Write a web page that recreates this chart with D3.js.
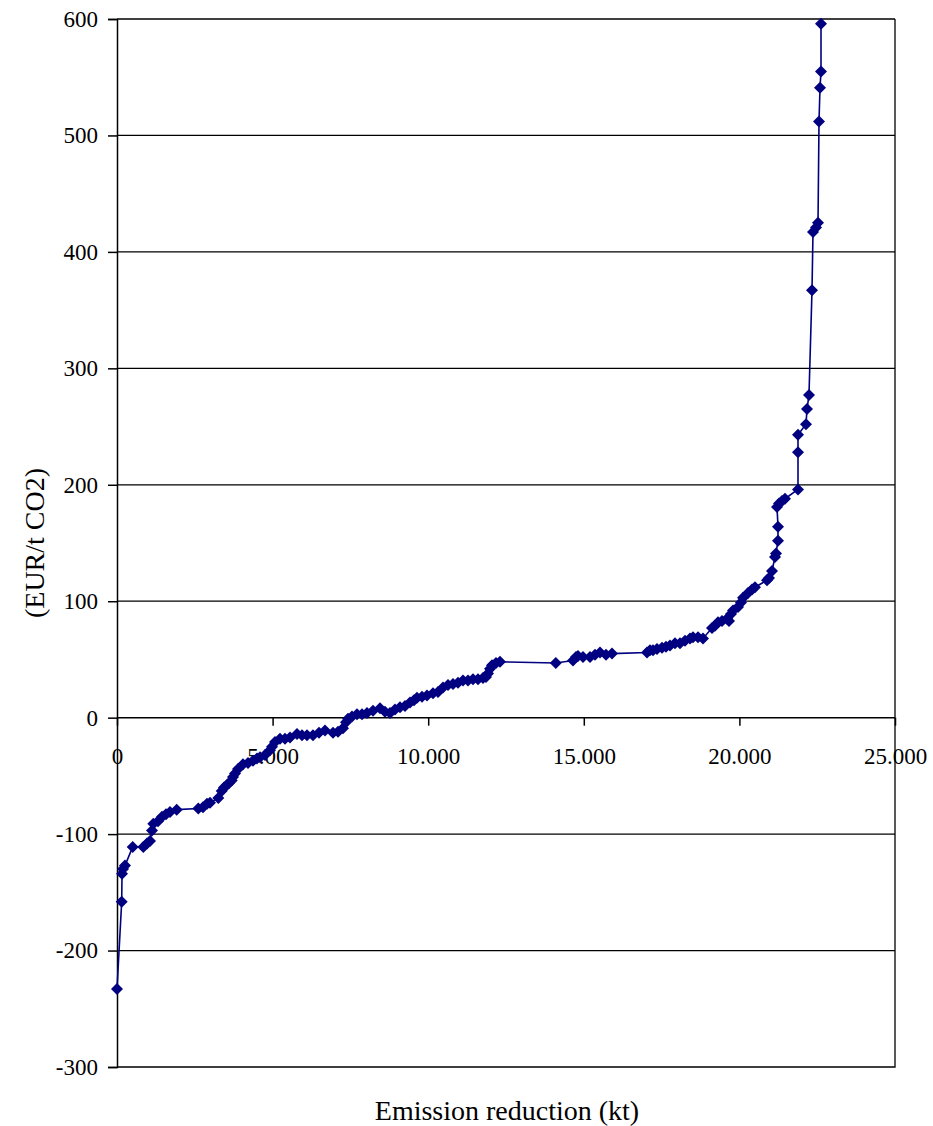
<!DOCTYPE html>
<html>
<head>
<meta charset="utf-8">
<script src="https://cdn.jsdelivr.net/npm/d3@7"></script>
<style>
  body { margin: 0; background: #fff; }
  text { font-family: "Liberation Serif", "Times New Roman", serif; fill: #000; }
</style>
</head>
<body>
<div class="canvas"></div>
<script>
// Emission reduction (kt), cumulative
var emissionKt = [0, 151, 161, 193, 257, 504, 845, 964, 1060, 1125,
  1166, 1317, 1446, 1575, 1703, 1918, 2612, 2764, 2892, 2988,
  3255, 3364, 3438, 3525, 3600, 3686, 3727, 3792, 3888, 4049,
  4209, 4370, 4499, 4595, 4756, 4917, 4981, 5077, 5238, 5398,
  5559, 5784, 5945, 6105, 6298, 6491, 6684, 6941, 7102, 7262,
  7358, 7423, 7551, 7712, 7873, 8034, 8226, 8451, 8612, 8773,
  8933, 9094, 9255, 9415, 9544, 9640, 9801, 9962, 10154, 10315,
  10476, 10636, 10797, 10958, 11118, 11279, 11440, 11600, 11761, 11857,
  11922, 11986, 12050, 12179, 12307, 14100, 14653, 14749, 14813, 14974,
  15199, 15360, 15521, 15713, 15906, 17031, 17127, 17224, 17352, 17513,
  17641, 17770, 17931, 18091, 18252, 18413, 18509, 18670, 18831, 19120,
  19216, 19313, 19441, 19602, 19666, 19730, 19794, 19955, 20051, 20115,
  20276, 20405, 20501, 20887, 20951, 21048, 21144, 21176, 21240, 21240,
  21208, 21272, 21369, 21465, 21883, 21883, 21883, 22140, 22172, 22236,
  22333, 22365, 22461, 22526, 22558, 22590, 22622, 22622];

// Abatement cost (EUR/t CO2) for each step
var costEur = [-233, -158, -134, -130, -127, -111, -111, -108, -106, -97,
  -91, -89, -85, -83, -81, -79, -78, -77, -74, -73,
  -69, -63, -60, -58, -56, -54, -51, -48, -44, -40,
  -39, -37, -35, -34, -32, -28, -25, -21, -18, -18,
  -17, -14, -15, -15, -15, -13, -11, -13, -12, -9,
  -4, -1, 1, 3, 3, 4, 6, 8, 5, 4,
  7, 9, 10, 13, 15, 17, 18, 19, 21, 22,
  26, 28, 29, 30, 32, 32, 33, 33, 34, 35,
  38, 42, 45, 47, 48, 47, 49, 52, 53, 52,
  52, 54, 56, 54, 55, 56, 58, 58, 59, 60,
  61, 62, 64, 64, 66, 68, 69, 69, 68, 77,
  79, 82, 83, 85, 83, 89, 92, 95, 99, 103,
  107, 110, 112, 118, 120, 126, 138, 141, 152, 164,
  181, 184, 186, 188, 196, 228, 243, 252, 265, 277,
  367, 417, 421, 425, 512, 541, 555, 596];

// Axis ticks
var xTicks = [0, 5000, 10000, 15000, 20000, 25000];
var yTicks = [-300, -200, -100, 0, 100, 200, 300, 400, 500, 600];
var gridValues = [-200, -100, 100, 200, 300, 400, 500, 600];

// Sizes
const svgWidth = 933;
const svgHeight = 1126;
const plot = {left: 117, right: 895, top: 19, bottom: 1067};
const navy = '#000080';

let xScale, yScale, svg;

// thousands separator is a dot, like the original
const locale = d3.formatLocale({decimal: ',', thousands: '.', grouping: [3], currency: ['', '']});
const fmt = locale.format(',d');

// Method: createScales()
function createScales(){
    xScale = d3.scaleLinear().domain([0, 25000]).range([plot.left, plot.right]);
    yScale = d3.scaleLinear().domain([-300, 600]).range([plot.bottom, plot.top]);
}

// Method: drawGrid()
function drawGrid(){
    // horizontal gridlines
    svg.append('g').attr('class', 'grid')
    .selectAll('line')
    .data(gridValues)
    .enter()
    .append('line')
    .attr('x1', plot.left)
    .attr('x2', plot.right)
    .attr('y1', (d) => yScale(d))
    .attr('y2', (d) => yScale(d))
    .attr('stroke', '#000')
    .attr('stroke-width', 1.3);

    // right and bottom border of plot area
    svg.append('path')
    .attr('d', 'M' + plot.right + ',' + plot.top + 'V' + plot.bottom + 'H' + plot.left)
    .attr('fill', 'none')
    .attr('stroke', '#000')
    .attr('stroke-width', 1.3);
}

// Method: drawAxes()
function drawAxes(){
    var y_ax = d3.axisLeft(yScale).tickValues(yTicks).tickSize(9).tickPadding(10).tickFormat((d) => d);
    var x_ax = d3.axisBottom(xScale).tickValues(xTicks).tickSize(8).tickPadding(22).tickFormat(fmt);

    svg.append('g')
    .attr('class', 'y_axis')
    .attr('transform', 'translate(' + plot.left + ',0)')
    .call(y_ax)
    .call((g) => g.selectAll('path, line').attr('stroke', '#000').attr('stroke-width', 1.5))
    .call((g) => g.selectAll('text').style('font-size', '23px').attr('font-family', null));

    svg.append('g')
    .attr('class', 'x_axis')
    .attr('transform', 'translate(0,' + yScale(0) + ')')
    .call(x_ax)
    .call((g) => g.select('.domain').attr('d', 'M' + plot.left + ',0H' + plot.right))
    .call((g) => g.selectAll('path, line').attr('stroke', '#000').attr('stroke-width', 1.5))
    .call((g) => g.selectAll('text').style('font-size', '23px').attr('font-family', null));

    // y-axis title
    svg.append('text')
    .attr('transform', 'translate(44,' + ((plot.top + plot.bottom) / 2) + ')rotate(-90)')
    .attr('text-anchor', 'middle')
    .style('font-size', '28px')
    .text('(EUR/t CO2)');

    // x-axis title
    svg.append('text')
    .attr('x', 507)
    .attr('y', 1120)
    .attr('text-anchor', 'middle')
    .style('font-size', '28px')
    .text('Emission reduction (kt)');
}

// Method: drawData()
function drawData(){
    var pts = emissionKt.map((x, i) => [x, costEur[i]]);

    svg.append('path')
    .datum(pts)
    .attr('fill', 'none')
    .attr('stroke', navy)
    .attr('stroke-width', 1.6)
    .attr('d', d3.line().x((d) => xScale(d[0])).y((d) => yScale(d[1])));

    // diamond markers
    svg.append('g')
    .selectAll('path')
    .data(pts)
    .enter()
    .append('path')
    .attr('transform', (d) => 'translate(' + xScale(d[0]) + ',' + yScale(d[1]) + ')')
    .attr('d', 'M0,-6L6,0L0,6L-6,0Z')
    .attr('fill', navy);
}

// Method: drawCanvas()
function drawCanvas(){
    svg = d3.select('.canvas')
    .append('svg')
    .attr('width', svgWidth)
    .attr('height', svgHeight)
    .style('display', 'block')
    .style('background-color', 'white');

    createScales();
    drawGrid();
    drawAxes();
    drawData();
}

drawCanvas();
</script>
</body>
</html>
